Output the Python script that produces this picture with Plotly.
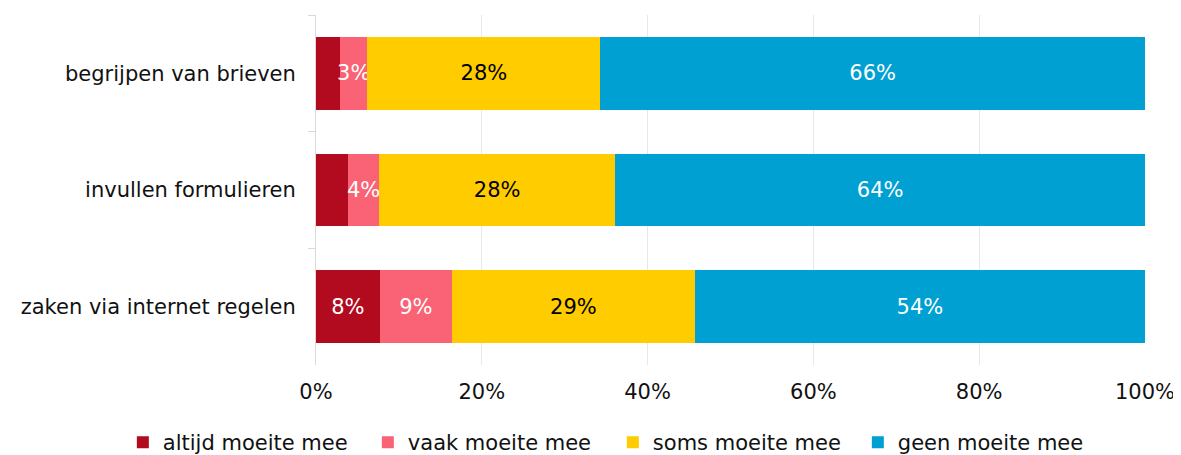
import plotly.graph_objects as go

categories = ["begrijpen van brieven", "invullen formulieren", "zaken via internet regelen"]
series_names = ["altijd moeite mee", "vaak moeite mee", "soms moeite mee", "geen moeite mee"]
altijd = [2.9, 3.9, 7.7]
vaak = [3.3, 3.7, 8.7]
soms = [28.1, 28.5, 29.3]
geen = [65.7, 63.9, 54.3]
show_label = [
    [False, False, True],
    [True, True, True],
    [True, True, True],
    [True, True, True],
]
colors = ["#B20A1F", "#F96375", "#FFCC00", "#00A1D2"]
text_colors = ["white", "white", "black", "white"]
tick_vals = [0, 20, 40, 60, 80, 100]
tick_text = ["0%", "20%", "40%", "60%", "80%", "100%"]

FONT = "Verdana, DejaVu Sans, sans-serif"
FS = 21

fig = go.Figure()
for name, vals, col, tc, show in zip(series_names, [altijd, vaak, soms, geen], colors, text_colors, show_label):
    fig.add_trace(go.Bar(
        y=categories, x=vals, name=name, orientation="h",
        marker=dict(color=col, line=dict(width=0)),
        text=[f"{v:.0f}%" if s else "" for v, s in zip(vals, show)],
        textposition="inside", insidetextanchor="middle", textangle=0,
        textfont=dict(color=tc, size=FS, family=FONT),
        hoverinfo="x+name",
    ))

# page body has an 8px default margin; figure offset compensated in margins
fig.update_layout(
    barmode="stack",
    bargap=0.376,
    width=1173, height=462,
    margin=dict(l=308, r=36, t=7, b=105),
    plot_bgcolor="white", paper_bgcolor="white",
    font=dict(family=FONT, size=FS, color="#111111"),
    uniformtext=dict(minsize=FS, mode="show"),
    xaxis=dict(range=[0, 100], tickvals=tick_vals, ticktext=tick_text,
               showgrid=True, gridcolor="#e8e8e8", gridwidth=1, zeroline=False,
               showline=False, ticks="", ticklabelstandoff=12, automargin=False),
    yaxis=dict(autorange="reversed", showline=True, linecolor="#d9d9d9", linewidth=1,
               ticks="outside", tickson="boundaries", ticklen=7, tickcolor="#d9d9d9",
               showgrid=False, ticklabelstandoff=15, automargin=False),
    legend=dict(orientation="h", x=-0.233, xanchor="left",
                y=-0.163, yanchor="top",
                font=dict(size=FS), itemwidth=30, traceorder="normal",
                entrywidth=200, entrywidthmode="pixels"),
    showlegend=True,
)

fig.write_html("out.html")
